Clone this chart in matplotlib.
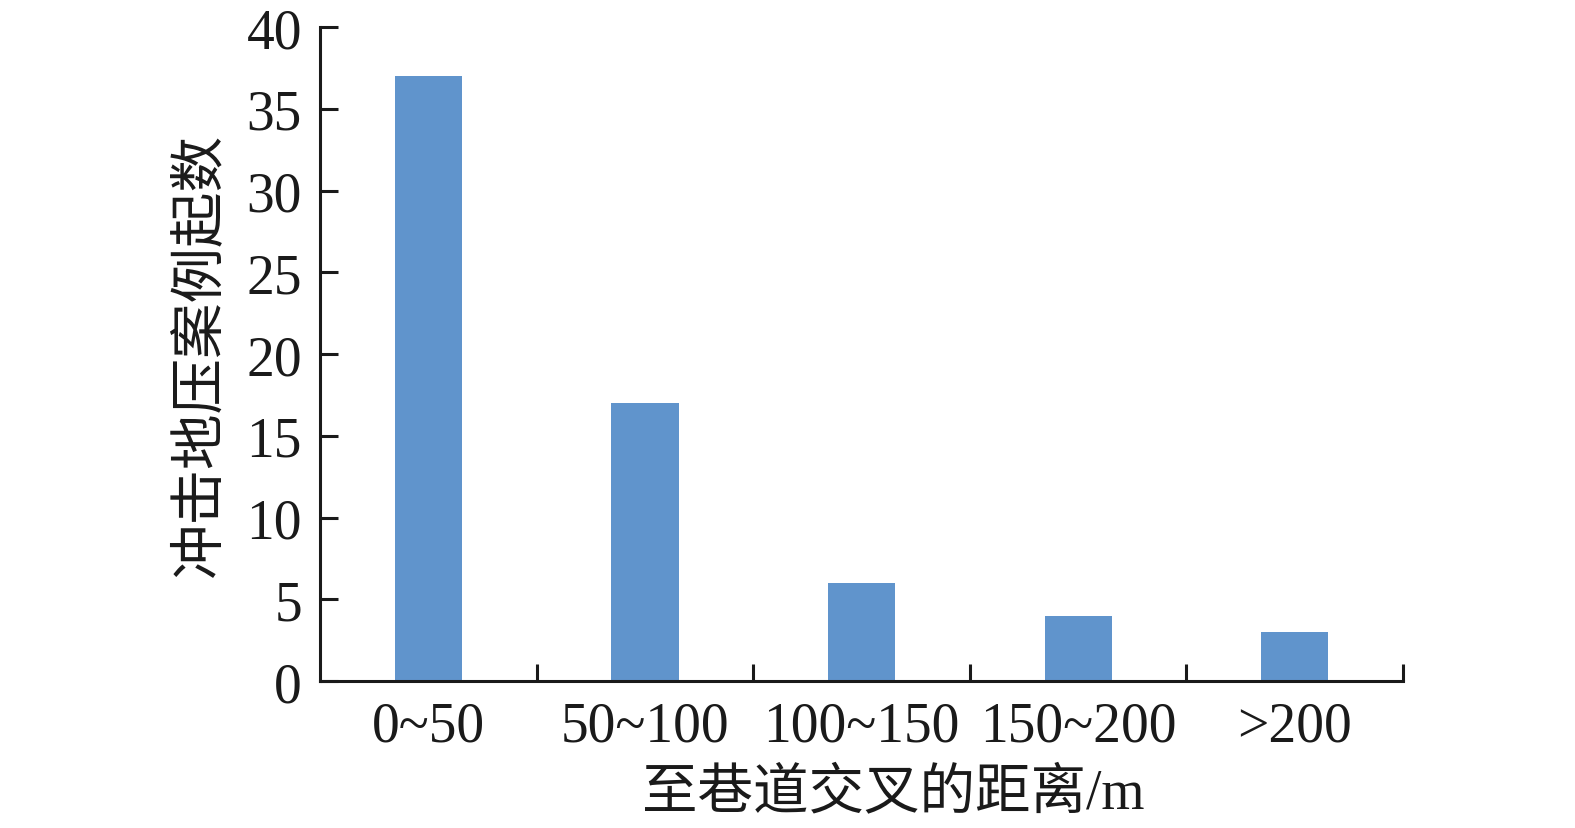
import numpy as np
import matplotlib
matplotlib.use("Agg")
import matplotlib.pyplot as plt

categories = ["0~50", "50~100", "100~150", "150~200", ">200"]
counts = [37, 17, 6, 4, 3]
y_ticks = [0, 5, 10, 15, 20, 25, 30, 35, 40]

plt.rcParams['font.family'] = ['Liberation Serif', 'Noto Sans CJK SC', 'DejaVu Sans']

fig = plt.figure(figsize=(15.75, 8.29), dpi=100)
ax = fig.add_axes([0.2032, 0.177, 0.6876, 0.7892])

x = np.arange(len(categories))
ax.bar(x, counts, width=0.31, color='#6094CC')

ax.set_xlim(-0.5, len(categories) - 0.5)
ax.set_ylim(0, 40)
ax.set_yticks(y_ticks)
ax.set_xticks(x)
ax.set_xticklabels(categories)
ax.set_xticks(x + 0.5, minor=True)

for side in ['top', 'right']:
    ax.spines[side].set_visible(False)
for side in ['left', 'bottom']:
    ax.spines[side].set_linewidth(2.2)
    ax.spines[side].set_color('#1a1a1a')

ax.tick_params(axis='y', direction='in', length=13, width=2.2, pad=13,
               labelsize=40, color='#1a1a1a', labelcolor='#1a1a1a')
ax.tick_params(axis='x', which='major', length=0, pad=14,
               labelsize=40, labelcolor='#1a1a1a')
ax.tick_params(axis='x', which='minor', direction='in', length=12, width=2.2,
               color='#1a1a1a')

ax.set_xlabel("至巷道交叉的距离/m", fontsize=40, color='#1a1a1a')
ax.xaxis.set_label_coords(0.529, -0.132)
ax.set_ylabel("冲击地压案例起数", fontsize=40, color='#1a1a1a', labelpad=14)

fig.savefig("out.png", dpi=100)
